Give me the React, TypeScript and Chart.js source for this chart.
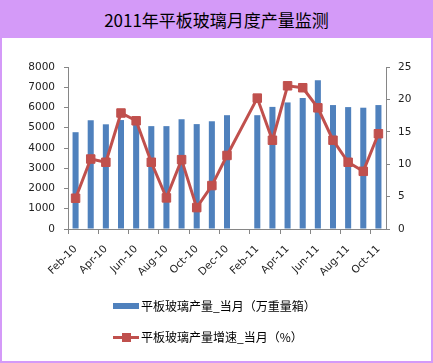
import React, { useEffect, useRef } from "react";
import { Chart, registerables } from "chart.js";

Chart.register(...registerables);

const months = [
  "Feb-10", "Mar-10", "Apr-10", "May-10", "Jun-10", "Jul-10", "Aug-10", "Sep-10", "Oct-10", "Nov-10", "Dec-10",
  "Jan-11", "Feb-11", "Mar-11", "Apr-11", "May-11", "Jun-11", "Jul-11", "Aug-11", "Sep-11", "Oct-11",
];
const output = [4780, 5370, 5170, 5380, 5200, 5080, 5080, 5420, 5180, 5320, 5620, null, 5620, 6030, 6250, 6470, 7350, 6120, 6020, 5990, 6120];
const growth = [4.75, 10.8, 10.3, 17.9, 16.7, 10.3, 4.8, 10.7, 3.3, 6.7, 11.35, null, 20.2, 13.7, 22.1, 21.8, 18.7, 13.7, 10.3, 8.9, 14.7];

const titleText = "2011年平板玻璃月度产量监测";
const outputLabel = "平板玻璃产量_当月（万重量箱）";
const growthLabel = "平板玻璃产量增速_当月（%）";

const BLUE = "#4F81BD";
const RED = "#C0504D";
const AXIS = "#868686";
const PURPLE = "#D49AF8";
const CJK = '"Noto Sans CJK SC", "Noto Sans", sans-serif';

export default function App() {
  const ref = useRef<HTMLCanvasElement | null>(null);

  useEffect(() => {
    const canvas = ref.current;
    if (!canvas) return;
    const tickFont = { family: '"DejaVu Sans", sans-serif', size: 10.5 };
    const chart = new Chart(canvas, {
      type: "bar",
      data: {
        labels: months,
        datasets: [
          {
            type: "line",
            label: growthLabel,
            data: growth,
            yAxisID: "y1",
            borderColor: RED,
            backgroundColor: RED,
            borderWidth: 3,
            pointStyle: "rect",
            pointRadius: 6,
            pointBorderWidth: 1,
            pointBackgroundColor: RED,
            pointBorderColor: RED,
            spanGaps: true,
            tension: 0,
            order: 0,
          } as any,
          {
            type: "bar",
            label: outputLabel,
            data: output,
            yAxisID: "y",
            backgroundColor: BLUE,
            barPercentage: 0.5,
            categoryPercentage: 0.8,
            order: 1,
          } as any,
        ],
      },
      options: {
        responsive: false,
        animation: false,
        layout: { padding: { top: 67, left: 0, right: 0, bottom: 0 } },
        plugins: { legend: { display: false }, tooltip: { enabled: false }, title: { display: false } },
        scales: {
          x: {
            offset: true,
            grid: {
              offset: true,
              drawOnChartArea: false,
              tickLength: 5,
              color: (c: any) => (c.index % 2 === 0 ? AXIS : "rgba(0,0,0,0)"),
            },
            border: { display: true, color: AXIS, width: 1 },
            ticks: {
              autoSkip: false,
              minRotation: 45,
              maxRotation: 45,
              padding: 9,
              color: "#222",
              font: tickFont,
              callback: (_v: any, i: number) => (i % 2 === 0 ? months[i] : ""),
            },
            afterFit: (s: any) => {
              s.height = 134;
            },
          },
          y: {
            position: "left",
            min: 0,
            max: 8000,
            grid: { drawOnChartArea: false, tickLength: 4, color: AXIS },
            border: { display: true, color: AXIS, width: 1 },
            ticks: { stepSize: 1000, padding: 9, color: "#222", font: tickFont, callback: (v: any) => String(v) },
            afterFit: (s: any) => {
              s.width = 68;
            },
          },
          y1: {
            position: "right",
            min: 0,
            max: 25,
            grid: { drawOnChartArea: false, tickLength: 4, color: AXIS },
            border: { display: true, color: AXIS, width: 1 },
            ticks: { stepSize: 5, padding: 8, color: "#222", font: tickFont, callback: (v: any) => String(v) },
            afterFit: (s: any) => {
              s.width = 47;
            },
          },
        },
      },
    });
    return () => chart.destroy();
  }, []);

  return (
    <div style={{ position: "fixed", left: 0, top: 0, width: 433, height: 363, background: "#fff", overflow: "hidden" }}>
      <canvas ref={ref} width={433} height={363} style={{ position: "absolute", left: 0, top: 0, width: 433, height: 363 }} />
      <div
        style={{
          position: "absolute",
          left: 0,
          top: 0,
          width: 433,
          height: 38,
          background: PURPLE,
          display: "flex",
          alignItems: "center",
          justifyContent: "center",
          fontFamily: CJK,
          fontSize: 17,
          color: "#000",
        }}
      >
        {titleText}
      </div>
      <div style={{ position: "absolute", left: 113, top: 303, width: 26, height: 6, background: BLUE }} />
      <div
        style={{ position: "absolute", left: 141, top: 296, height: 20, lineHeight: "20px", fontFamily: CJK, fontSize: 12, color: "#000", whiteSpace: "nowrap" }}
      >
        {outputLabel}
      </div>
      <div style={{ position: "absolute", left: 113, top: 335.5, width: 26, height: 3, background: RED }} />
      <div style={{ position: "absolute", left: 122, top: 333, width: 9, height: 9, background: RED }} />
      <div
        style={{ position: "absolute", left: 141, top: 327, height: 20, lineHeight: "20px", fontFamily: CJK, fontSize: 12, color: "#000", whiteSpace: "nowrap" }}
      >
        {growthLabel}
      </div>
      <div
        style={{
          position: "absolute",
          left: 0,
          top: 0,
          width: 433,
          height: 363,
          boxSizing: "border-box",
          border: `2px solid ${PURPLE}`,
          pointerEvents: "none",
        }}
      />
    </div>
  );
}
